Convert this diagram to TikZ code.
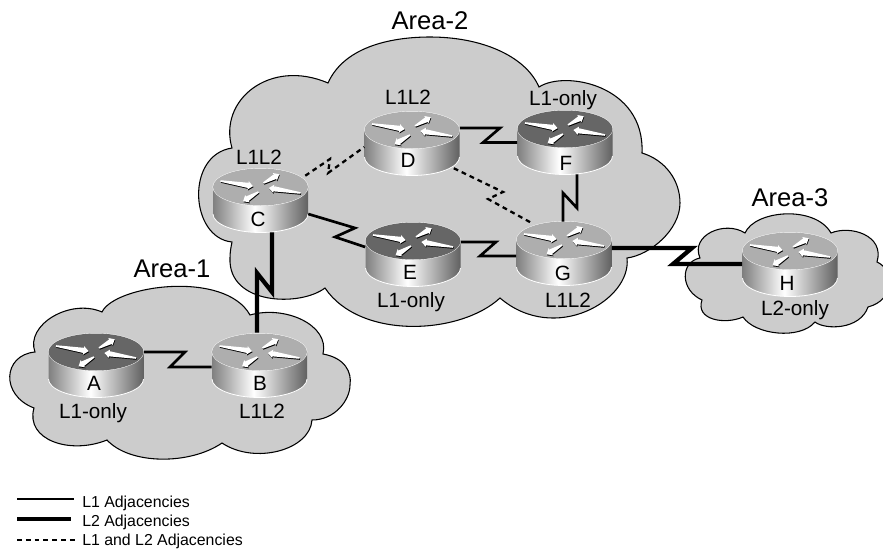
\documentclass[tikz,border=0pt]{standalone}
\usepackage{fontspec}
\setmainfont{Liberation Sans}
\usetikzlibrary{calc}
\definecolor{cloudgray}{HTML}{CCCCCC}
\definecolor{toplight}{HTML}{AEAEAE}
\definecolor{topdark}{HTML}{666666}
\pgfdeclarehorizontalshading{routerbody}{100bp}{color(0bp)=(black!50);color(25bp)=(black!50);color(47bp)=(white);color(75bp)=(black!62);color(100bp)=(black!62)}
\tikzset{
  cloudshape/.style={fill=cloudgray,draw=black,line width=0.8pt},
  linkone/.style={line width=2pt,line join=miter,miter limit=10},
  linktwo/.style={line width=3.2pt,line join=miter,miter limit=10},
  linkdash/.style={line width=1.7pt,dash pattern=on 3.6pt off 3pt},
  routerbox/.style={draw=none,minimum width=71.25pt,minimum height=48pt,inner sep=0pt},
  rlabel/.style={font=\fontsize{15.5pt}{16pt}\selectfont,inner sep=0pt,text height=11pt,text depth=0pt},
  arealabel/.style={font=\fontsize{19.2pt}{20pt}\selectfont,inner sep=0pt,text height=13.8pt,text depth=0pt},
  leglabel/.style={font=\fontsize{11.9pt}{12pt}\selectfont,inner sep=0pt,text height=8.5pt,text depth=0pt,anchor=west},
}
\newcommand{\arrowpoly}[1]{(0,-0.8) -- (#1-5,-2.6) -- (#1-5,-4.2) -- (#1,0) -- (#1-5,4.2) -- (#1-5,2.6) -- (0,0.8) -- cycle}
% #1 x, #2 y, #3 angle, #4 length
\newcommand{\routerarrow}[4]{%
  \begin{scope}[shift={(#1+0.5,#2+1)},rotate=#3]
    \fill[black] \arrowpoly{#4};
  \end{scope}
  \begin{scope}[shift={(#1,#2)},rotate=#3]
    \fill[white] \arrowpoly{#4};
  \end{scope}}
% #1 name, #2 cx, #3 cy of top ellipse, #4 top colour, #5 letter, #6 letter x, #7 letter y
\newcommand{\router}[7]{%
  \path[shading=routerbody] (#2-47.5,#3) -- (#2-47.5,#3+27) arc[start angle=180,end angle=360,x radius=47.5,y radius=-18.5] -- (#2+47.5,#3) -- cycle;
  \draw[white,line width=0.6pt] (#2-47.5,#3+27) arc[start angle=180,end angle=360,x radius=47.5,y radius=-18.5];
  \draw[white,line width=0.6pt,fill=#4] (#2,#3) ellipse[x radius=47.5,y radius=18.5];
  \fill[#4] (#2,#3) ellipse[x radius=47.5,y radius=18.5];
  \routerarrow{#2-40}{#3-6}{-9}{33}
  \routerarrow{#2+3}{#3-4}{29}{18}
  \routerarrow{#2+40}{#3+6}{171}{32}
  \routerarrow{#2-2}{#3+5}{211}{18}
  \node[routerbox] (#1) at (#2,#3+14) {};
  \node[rlabel] (#1-letter) at (#6,#7) {#5};
}
\begin{document}
\begin{tikzpicture}[x=0.75pt,y=-0.75pt]
\useasboundingbox (0,0) rectangle (883,550);
\clip (0,0) rectangle (883,550);
\fill[white] (0,0) rectangle (883,550);
% clouds
\draw[cloudshape] (232,148) .. controls (218,100) and (270,58) .. (328,83)
  .. controls (345,45) and (395,37) .. (430,37)
  .. controls (480,37) and (525,55) .. (539,87)
  .. controls (565,70) and (645,85) .. (642,153)
  .. controls (665,160) and (680,180) .. (680,203)
  .. controls (680,230) and (650,255) .. (627,258)
  .. controls (632,300) and (555,345) .. (500,298)
  .. controls (460,335) and (360,340) .. (325,288)
  .. controls (300,307) and (228,305) .. (230,258)
  .. controls (230,252) and (231,247) .. (232,242)
  .. controls (190,238) and (185,155) .. (232,148) -- cycle;
\draw[cloudshape] (35,352) .. controls (25,325) and (70,298) .. (102,312)
  .. controls (115,285) and (225,270) .. (250,315)
  .. controls (285,305) and (330,325) .. (323,354)
  .. controls (345,358) and (352,372) .. (350,385)
  .. controls (350,400) and (335,420) .. (312,420)
  .. controls (310,450) and (255,465) .. (222,443)
  .. controls (190,465) and (130,465) .. (107,440)
  .. controls (70,455) and (25,440) .. (34,408)
  .. controls (0,395) and (3,355) .. (35,352) -- cycle;
\draw[cloudshape] (745,233) .. controls (755,210) and (815,205) .. (831,233)
  .. controls (850,225) and (885,235) .. (877,262)
  .. controls (895,270) and (895,300) .. (868,307)
  .. controls (860,330) and (825,330) .. (815,322)
  .. controls (800,340) and (755,335) .. (743,317)
  .. controls (725,325) and (695,320) .. (702,300)
  .. controls (680,290) and (680,262) .. (700,258)
  .. controls (690,235) and (725,220) .. (745,233) -- cycle;
% routers
\router{A}{96}{352}{topdark}{A}{94}{383}
\router{B}{259.5}{352}{toplight}{B}{260}{383}
\router{C}{260.5}{187}{toplight}{C}{258}{219}
\router{D}{412}{130}{toplight}{D}{408}{160}
\router{E}{413}{241}{topdark}{E}{410}{272}
\router{F}{565}{129}{topdark}{F}{566}{163}
\router{G}{564}{240}{toplight}{G}{563}{273}
\router{H}{790}{251}{toplight}{H}{787}{283}
% bends
\coordinate (ab1) at (185,352); \coordinate (ab2) at (170,367);
\coordinate (ce1) at (355,228); \coordinate (ce2) at (335,237);
\coordinate (eg1) at (496,242); \coordinate (eg2) at (480,256);
\coordinate (df1) at (500,128); \coordinate (df2) at (483,142.5);
\coordinate (fg1) at (577,208); \coordinate (fg2) at (563,193);
\coordinate (cb1) at (272,292); \coordinate (cb2) at (257,273);
\coordinate (gh1) at (692,248); \coordinate (gh2) at (673,264);
\coordinate (cd1) at (330,159); \coordinate (cd2) at (328,173);
\coordinate (dg1) at (503,192); \coordinate (dg2) at (488,199);
% connectors
\draw[linkone] ($(A.east)+(0,-14)$) -- (ab1) -- (ab2) -- ($(B.west)+(0,1)$);
\draw[linkone] ($(C.east)+(0,13)$) -- (ce1) -- (ce2) -- ($(E.west)+(0,-8)$);
\draw[linkone] ($(E.east)+(0,-13)$) -- (eg1) -- (eg2) -- ($(G.west)+(0,2)$);
\draw[linkone] ($(D.east)+(0,-16)$) -- (df1) -- (df2) -- ($(F.west)+(0,-0.5)$);
\draw[linkone] ($(F.south)+(12,-1)$) -- (fg1) -- (fg2) -- ($(G.north)+(-1,0)$);
\draw[linktwo] ($(C.south)+(11.5,-1)$) -- (cb1) -- (cb2) -- ($(B.north)+(-2.5,-1)$);
\draw[linktwo] ($(G.east)+(0,-6)$) -- (gh1) -- (gh2) -- ($(H.west)+(0,-1)$);
\draw[linkdash] ($(C.north east)+(-3,7)$) -- (cd1) -- (cd2) -- ($(D.west)+(0,3)$);
\draw[linkdash] ($(D.south east)+(-6,-8)$) -- (dg1) -- (dg2) -- ($(G.north)+(-31,2)$);
% labels
\node[arealabel] (a2) at (430,20) {Area-2};
\node[arealabel] (a1) at (172,268) {Area-1};
\node[arealabel] (a3) at (790,197) {Area-3};
\node[rlabel] (lc) at (259,157) {L1L2};
\node[rlabel] (ld) at (408,97) {L1L2};
\node[rlabel] (lf) at (563,98) {L1-only};
\node[rlabel] (le) at (411,300) {L1-only};
\node[rlabel] (lg) at (568,300) {L1L2};
\node[rlabel] (lh) at (795,308) {L2-only};
\node[rlabel] (la) at (93,411) {L1-only};
\node[rlabel] (lb) at (262,411) {L1L2};
% legend
\node[leglabel] (k1) at (82,502) {L1 Adjacencies};
\node[leglabel] (k2) at (82,521) {L2 Adjacencies};
\node[leglabel] (k3) at (82,540) {L1 and L2 Adjacencies};
\coordinate (k1s) at (17,499); \coordinate (k2s) at (17,519); \coordinate (k3s) at (17,540);
\draw[linkone,line width=1.6pt] (k1s) -- ($(k1.west)+(-8,-3)$);
\draw[linktwo] (k2s) -- ($(k2.west)+(-11,-2)$);
\draw[linkdash,line width=1.4pt] (k3s) -- ($(k3.west)+(-7,0)$);
\end{tikzpicture}
\end{document}
